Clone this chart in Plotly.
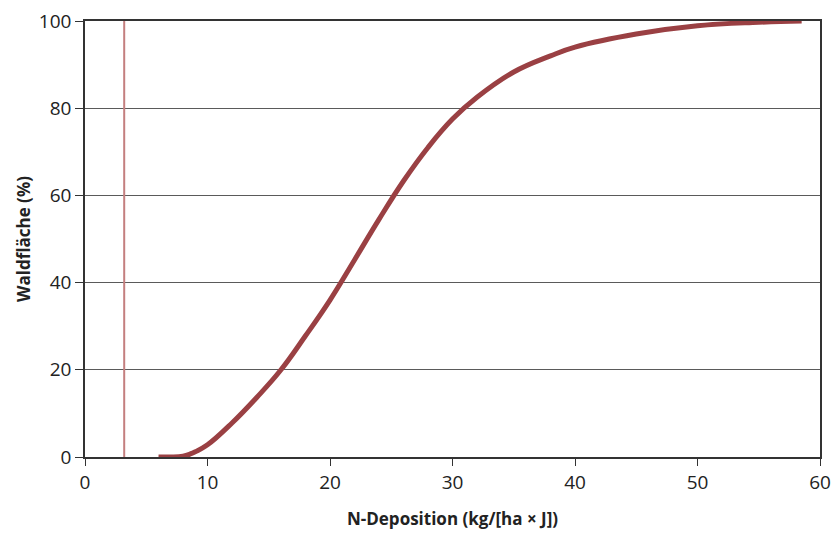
import plotly.graph_objects as go

# N-Deposition (kg/[ha x J]) and cumulative forest area (%)
deposition = [6, 7, 8, 8.6, 9, 10, 12, 14, 16, 18, 20, 22, 24, 26, 28, 30, 32, 35, 38, 40, 45, 50, 55, 58.5]
waldflaeche = [0, 0, 0.2, 0.7, 1.2, 2.8, 7.8, 13.6, 20, 27.8, 36, 45.2, 54.5, 63.3, 71, 77.5, 82.5, 88.3, 92, 94, 97, 98.9, 99.7, 100]

critical_load = 3.2
x_ticks = [0, 10, 20, 30, 40, 50, 60]
y_ticks = [0, 20, 40, 60, 80, 100]

font_family = "Open Sans, Lato, sans-serif"

fig = go.Figure()
fig.add_trace(go.Scatter(
    x=[critical_load, critical_load], y=[0, 100], mode="lines",
    line=dict(color="#c47f7f", width=2), showlegend=False, hoverinfo="skip"))
fig.add_trace(go.Scatter(
    x=deposition, y=waldflaeche, mode="lines",
    line=dict(color="#9a4043", width=5, shape="spline", smoothing=1.2),
    showlegend=False))

fig.update_layout(
    width=832, height=533,
    margin=dict(l=85, r=12, t=21, b=76, autoexpand=False),
    paper_bgcolor="white", plot_bgcolor="white",
    font=dict(family=font_family, size=19, color="#222"),
    xaxis=dict(
        range=[0, 60], tickvals=x_ticks, ticktext=[str(v) for v in x_ticks],
        showgrid=False, zeroline=False, automargin=False,
        showline=True, linecolor="#333", linewidth=1.5, mirror=True,
        ticks="outside", ticklen=7, tickcolor="#333",
        title=dict(text="<b>N-Deposition (kg/[ha × J])</b>", font=dict(size=17), standoff=20),
    ),
    yaxis=dict(
        range=[0, 100], tickvals=y_ticks, ticktext=[str(v) for v in y_ticks],
        showgrid=True, gridcolor="#5a5a5a", gridwidth=1, zeroline=False, automargin=False,
        showline=True, linecolor="#333", linewidth=1.5, mirror=True,
        ticks="outside", ticklen=8, tickcolor="#333",
        title=dict(text="<b>Waldfläche (%)</b>", font=dict(size=17), standoff=4),
    ),
)

fig.write_html("out.html", config={"displayModeBar": False},
               post_script="document.body.style.margin='0';document.body.style.overflow='hidden';")
